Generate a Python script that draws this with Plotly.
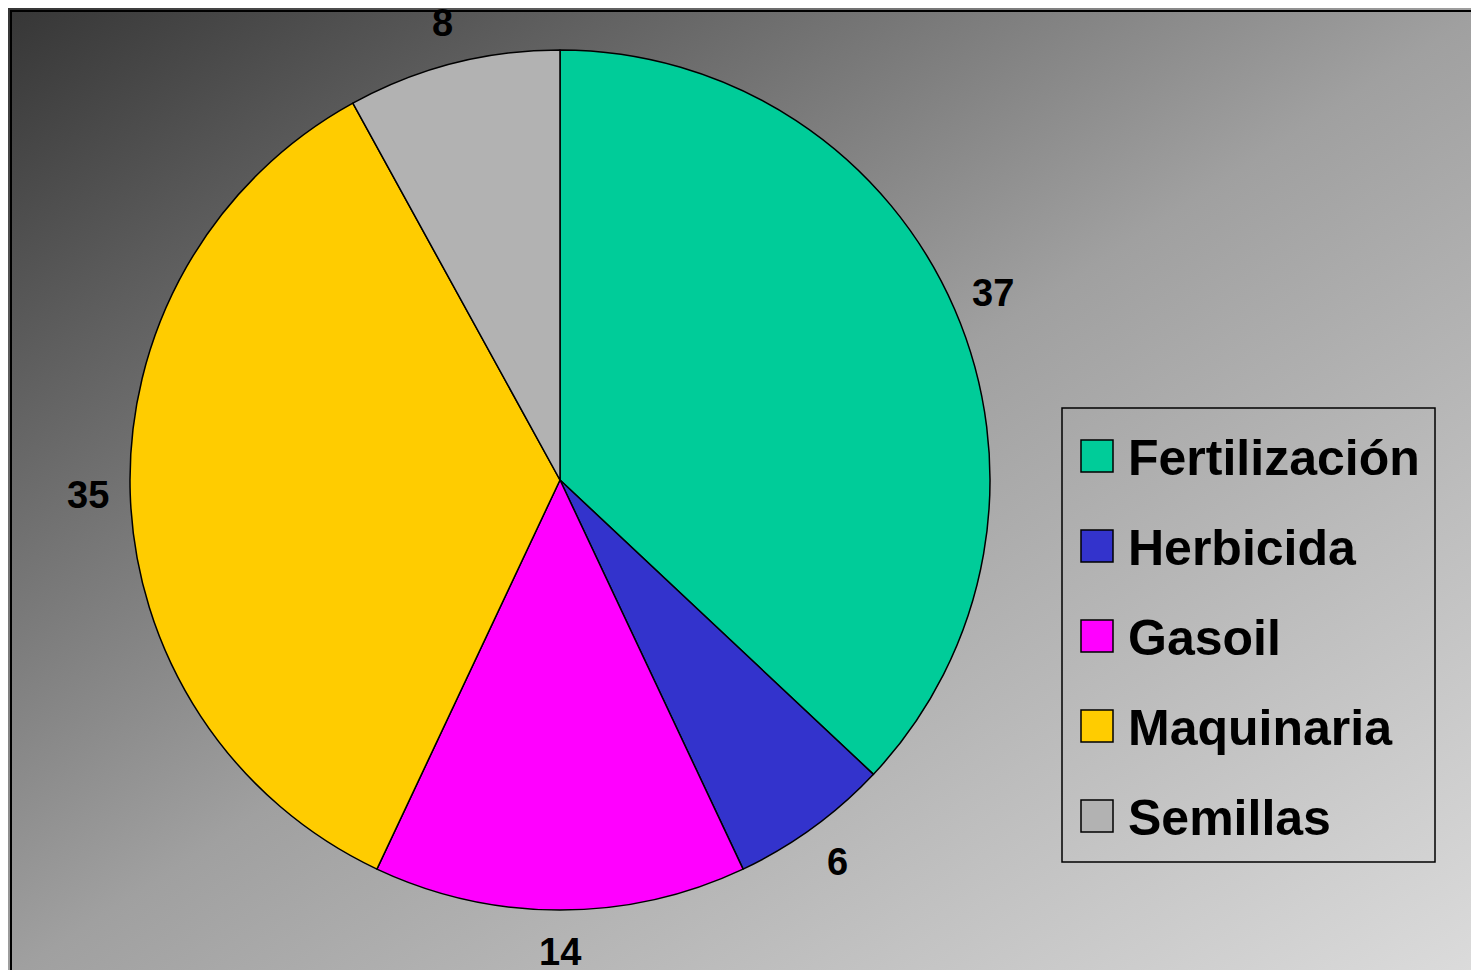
import base64
import math
import plotly.graph_objects as go

# ---- data ----
categories = ["Fertilización", "Herbicida", "Gasoil", "Maquinaria", "Semillas"]
values = [37, 6, 14, 35, 8]
colors = ["#00CC99", "#3333CC", "#FF00FF", "#FFCC00", "#B2B2B2"]

W, H = 1479, 970
OFF = 8  # page offset of the plot div
FONT = "Liberation Sans, Arial, sans-serif"

def px(x):
    return (x - OFF) / W

def py(y):
    return 1 - (y - OFF) / H

# gradient background as an SVG image
svg = (
    '<svg xmlns="http://www.w3.org/2000/svg" width="100" height="100" '
    'viewBox="0 0 100 100" preserveAspectRatio="none">'
    '<defs><linearGradient id="g" x1="0" y1="0" x2="1" y2="1">'
    '<stop offset="0" stop-color="#363636"/>'
    '<stop offset="0.5" stop-color="#a0a0a0"/>'
    '<stop offset="1" stop-color="#dcdcdc"/>'
    '</linearGradient></defs>'
    '<rect x="0" y="0" width="100" height="100" fill="url(#g)"/></svg>'
)
svg_uri = "data:image/svg+xml;base64," + base64.b64encode(svg.encode()).decode()

# pie geometry (pixels)
CX, CY, R = 560, 480, 430
R_LABEL = 472

fig = go.Figure()
fig.add_trace(go.Pie(
    labels=categories,
    values=values,
    sort=False,
    direction="clockwise",
    rotation=0,
    marker=dict(colors=colors, line=dict(color="black", width=1.5)),
    textinfo="none",
    domain=dict(x=[px(CX - R), px(CX + R)], y=[py(CY + R), py(CY - R)]),
    showlegend=False,
    hoverinfo="label+value",
))

annotations = []
# value labels outside the slices, placed from the values
total = sum(values)
cum = 0
for v in values:
    mid = (cum + v / 2) / total
    cum += v
    th = 2 * math.pi * mid
    lx = CX + R_LABEL * math.sin(th)
    ly = CY - R_LABEL * math.cos(th)
    annotations.append(dict(xref="paper", yref="paper", x=px(lx), y=py(ly),
                            xanchor="center", yanchor="middle", showarrow=False,
                            text=str(v),
                            font=dict(family=FONT, size=38, color="black", weight="bold")))

shapes = [
    # plot-area border
    dict(type="rect", xref="paper", yref="paper",
         x0=px(11), x1=1.02, y0=-0.02, y1=py(11),
         line=dict(color="black", width=2), layer="above"),
    # legend box
    dict(type="rect", xref="paper", yref="paper",
         x0=px(1062), x1=px(1435), y0=py(862), y1=py(408),
         line=dict(color="black", width=1.5)),
]
first_c, step = 456, 90
for i, (name, col) in enumerate(zip(categories, colors)):
    cy = first_c + i * step
    shapes.append(dict(type="rect", xref="paper", yref="paper",
                       x0=px(1081), x1=px(1113), y0=py(cy + 16), y1=py(cy - 16),
                       fillcolor=col, line=dict(color="black", width=1.5)))
    annotations.append(dict(xref="paper", yref="paper", x=px(1126), y=py(cy + 2),
                            xanchor="left", yanchor="middle", showarrow=False,
                            text=name,
                            font=dict(family=FONT, size=50, color="black", weight="bold")))

fig.update_layout(
    width=W, height=H,
    margin=dict(l=0, r=0, t=0, b=0),
    paper_bgcolor="#888888",
    plot_bgcolor="rgba(0,0,0,0)",
    images=[dict(source=svg_uri, xref="paper", yref="paper", x=0, y=1,
                 sizex=1, sizey=1, xanchor="left", yanchor="top",
                 sizing="stretch", layer="below")],
    shapes=shapes,
    annotations=annotations,
)

fig.write_html("out.html")
